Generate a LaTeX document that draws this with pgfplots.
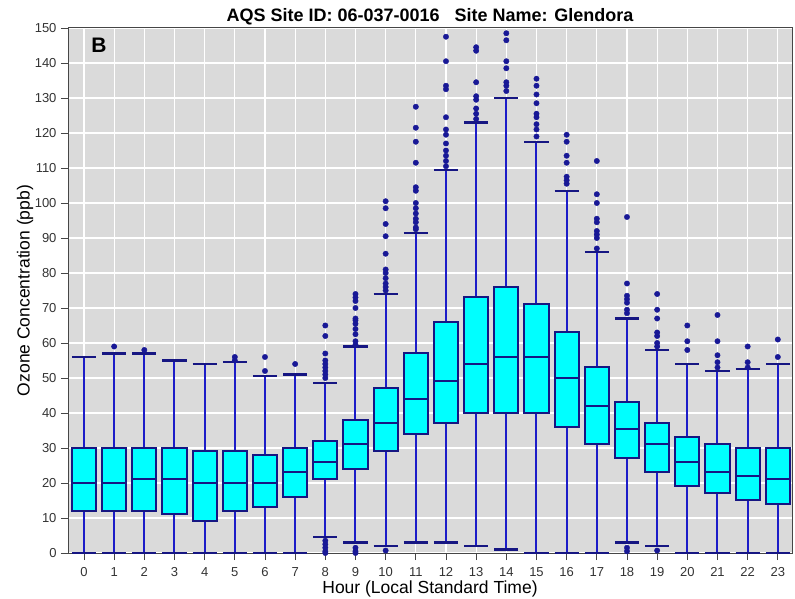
\documentclass[border=0pt]{standalone}
\usepackage{fontspec}
\setmainfont{Liberation Sans}
\usepackage{pgfplots}
\pgfplotsset{compat=1.18}
\definecolor{bgc}{RGB}{218,218,218}
\definecolor{boxc}{RGB}{22,22,130}
\definecolor{whc}{RGB}{28,28,200}
\definecolor{outc}{RGB}{24,24,150}
\definecolor{framec}{RGB}{70,70,70}
\definecolor{boxfill}{RGB}{0,255,255}
\begin{document}
\begin{tikzpicture}
\useasboundingbox (0,0) rectangle (795bp,599bp);
\begin{axis}[
  at={(68bp,46bp)}, anchor=south west,
  scale only axis, width=724bp, height=525bp,
  xmin=-0.53, xmax=23.47, ymin=0, ymax=150,
  xtick={0,1,...,23}, ytick={0,10,...,150},
  tick pos=left, tick align=outside,
  major tick length=7bp,
  clip=false,
  unbounded coords=jump,
  axis background/.style={fill=bgc},
  grid=major, major grid style={white, line width=1.3bp},
  axis line style={framec, line width=1bp},
  every tick/.style={framec, line width=0.8bp},
  /pgf/number format/assume math mode=true,
  ticklabel style={font=\fontsize{13bp}{15bp}\selectfont, text=black!80},
  yticklabel style={xshift=-1bp},
  xticklabel style={yshift=-4bp},
  xlabel={Hour (Local Standard Time)},
  ylabel={Ozone Concentration (ppb)},
  label style={font=\fontsize{17.5bp}{20bp}\selectfont},
  xlabel style={at={(axis description cs:0.5,0)}, anchor=base, yshift=-40bp},
  ylabel style={at={(axis description cs:-0.0594,0.5)}, anchor=center, rotate=0},
  title={AQS Site ID: 06-037-0016\ \ \ Site Name: Glendora},
  title style={font=\bfseries\fontsize{18bp}{20bp}\selectfont, at={(axis description cs:0.5,1)}, anchor=base, yshift=1bp},
]
% whiskers (lower whisker to upper whisker)
\addplot[draw=whc, line width=2bp, no marks] coordinates {
(0,0)(0,56)(0,nan) (1,0)(1,57)(1,nan) (2,0)(2,57)(2,nan) (3,0)(3,55)(3,nan)
(4,0)(4,54)(4,nan) (5,0)(5,54.5)(5,nan) (6,0)(6,50.5)(6,nan) (7,0)(7,51)(7,nan)
(8,4.5)(8,48.5)(8,nan) (9,3)(9,59)(9,nan) (10,2)(10,74)(10,nan) (11,3)(11,91.5)(11,nan)
(12,3)(12,109.5)(12,nan) (13,2)(13,123)(13,nan) (14,1)(14,130)(14,nan) (15,0)(15,117.5)(15,nan)
(16,0)(16,103.5)(16,nan) (17,0)(17,86)(17,nan) (18,3)(18,67)(18,nan) (19,2)(19,58)(19,nan)
(20,0)(20,54)(20,nan) (21,0)(21,52)(21,nan) (22,0)(22,52.5)(22,nan) (23,0)(23,54)
};
% whisker caps
\addplot[draw=boxc, line width=2.2bp, no marks] coordinates {
(-0.4,56)(0.4,56)(0,nan) (0.6,57)(1.4,57)(1,nan) (1.6,57)(2.4,57)(2,nan) (2.6,55)(3.4,55)(3,nan)
(3.6,54)(4.4,54)(4,nan) (4.6,54.5)(5.4,54.5)(5,nan) (5.6,50.5)(6.4,50.5)(6,nan) (6.6,51)(7.4,51)(7,nan)
(7.6,48.5)(8.4,48.5)(8,nan) (8.6,59)(9.4,59)(9,nan) (9.6,74)(10.4,74)(10,nan) (10.6,91.5)(11.4,91.5)(11,nan)
(11.6,109.5)(12.4,109.5)(12,nan) (12.6,123)(13.4,123)(13,nan) (13.6,130)(14.4,130)(14,nan) (14.6,117.5)(15.4,117.5)(15,nan)
(15.6,103.5)(16.4,103.5)(16,nan) (16.6,86)(17.4,86)(17,nan) (17.6,67)(18.4,67)(18,nan) (18.6,58)(19.4,58)(19,nan)
(19.6,54)(20.4,54)(20,nan) (20.6,52)(21.4,52)(21,nan) (21.6,52.5)(22.4,52.5)(22,nan) (22.6,54)(23.4,54)(23,nan)
(-0.4,0)(0.4,0)(0,nan) (0.6,0)(1.4,0)(1,nan) (1.6,0)(2.4,0)(2,nan) (2.6,0)(3.4,0)(3,nan)
(3.6,0)(4.4,0)(4,nan) (4.6,0)(5.4,0)(5,nan) (5.6,0)(6.4,0)(6,nan) (6.6,0)(7.4,0)(7,nan)
(7.6,4.5)(8.4,4.5)(8,nan) (8.6,3)(9.4,3)(9,nan) (9.6,2)(10.4,2)(10,nan) (10.6,3)(11.4,3)(11,nan)
(11.6,3)(12.4,3)(12,nan) (12.6,2)(13.4,2)(13,nan) (13.6,1)(14.4,1)(14,nan) (14.6,0)(15.4,0)(15,nan)
(15.6,0)(16.4,0)(16,nan) (16.6,0)(17.4,0)(17,nan) (17.6,3)(18.4,3)(18,nan) (18.6,2)(19.4,2)(19,nan)
(19.6,0)(20.4,0)(20,nan) (20.6,0)(21.4,0)(21,nan) (21.6,0)(22.4,0)(22,nan) (22.6,0)(23.4,0)
};
% boxes (lower quartile to upper quartile)
\addplot[draw=boxc, fill=boxfill, line width=2bp, line join=miter, line cap=rect, no marks] coordinates {
(-0.4,12)(0.4,12)(0.4,30)(-0.4,30)(-0.4,12)(0,nan)
(0.6,12)(1.4,12)(1.4,30)(0.6,30)(0.6,12)(1,nan)
(1.6,12)(2.4,12)(2.4,30)(1.6,30)(1.6,12)(2,nan)
(2.6,11)(3.4,11)(3.4,30)(2.6,30)(2.6,11)(3,nan)
(3.6,9)(4.4,9)(4.4,29)(3.6,29)(3.6,9)(4,nan)
(4.6,12)(5.4,12)(5.4,29)(4.6,29)(4.6,12)(5,nan)
(5.6,13)(6.4,13)(6.4,28)(5.6,28)(5.6,13)(6,nan)
(6.6,16)(7.4,16)(7.4,30)(6.6,30)(6.6,16)(7,nan)
(7.6,21)(8.4,21)(8.4,32)(7.6,32)(7.6,21)(8,nan)
(8.6,24)(9.4,24)(9.4,38)(8.6,38)(8.6,24)(9,nan)
(9.6,29)(10.4,29)(10.4,47)(9.6,47)(9.6,29)(10,nan)
(10.6,34)(11.4,34)(11.4,57)(10.6,57)(10.6,34)(11,nan)
(11.6,37)(12.4,37)(12.4,66)(11.6,66)(11.6,37)(12,nan)
(12.6,40)(13.4,40)(13.4,73)(12.6,73)(12.6,40)(13,nan)
(13.6,40)(14.4,40)(14.4,76)(13.6,76)(13.6,40)(14,nan)
(14.6,40)(15.4,40)(15.4,71)(14.6,71)(14.6,40)(15,nan)
(15.6,36)(16.4,36)(16.4,63)(15.6,63)(15.6,36)(16,nan)
(16.6,31)(17.4,31)(17.4,53)(16.6,53)(16.6,31)(17,nan)
(17.6,27)(18.4,27)(18.4,43)(17.6,43)(17.6,27)(18,nan)
(18.6,23)(19.4,23)(19.4,37)(18.6,37)(18.6,23)(19,nan)
(19.6,19)(20.4,19)(20.4,33)(19.6,33)(19.6,19)(20,nan)
(20.6,17)(21.4,17)(21.4,31)(20.6,31)(20.6,17)(21,nan)
(21.6,15)(22.4,15)(22.4,30)(21.6,30)(21.6,15)(22,nan)
(22.6,14)(23.4,14)(23.4,30)(22.6,30)(22.6,14)
};
% medians
\addplot[draw=boxc, line width=2bp, no marks] coordinates {
(-0.4,20)(0.4,20)(0,nan) (0.6,20)(1.4,20)(1,nan) (1.6,21)(2.4,21)(2,nan) (2.6,21)(3.4,21)(3,nan)
(3.6,20)(4.4,20)(4,nan) (4.6,20)(5.4,20)(5,nan) (5.6,20)(6.4,20)(6,nan) (6.6,23)(7.4,23)(7,nan)
(7.6,26)(8.4,26)(8,nan) (8.6,31)(9.4,31)(9,nan) (9.6,37)(10.4,37)(10,nan) (10.6,44)(11.4,44)(11,nan)
(11.6,49)(12.4,49)(12,nan) (12.6,54)(13.4,54)(13,nan) (13.6,56)(14.4,56)(14,nan) (14.6,56)(15.4,56)(15,nan)
(15.6,50)(16.4,50)(16,nan) (16.6,42)(17.4,42)(17,nan) (17.6,35.5)(18.4,35.5)(18,nan) (18.6,31)(19.4,31)(19,nan)
(19.6,26)(20.4,26)(20,nan) (20.6,23)(21.4,23)(21,nan) (21.6,22)(22.4,22)(22,nan) (22.6,21)(23.4,21)
};
% outliers
\addplot[only marks, mark=*, mark size=2.7bp, color=outc, mark options={solid, fill=outc, draw=outc, line width=0.4bp}] coordinates {
(1,59) (2,58) (5,55) (5,56) (6,52) (6,56) (7,54)
(8,50) (8,51) (8,52) (8,53) (8,54) (8,55) (8,57) (8,62) (8,65) (8,3.5) (8,2.5) (8,1.5) (8,0.5) (8,0)
(9,59.5) (9,60.5) (9,62.5) (9,64) (9,65.5) (9,66.5) (9,67) (9,70) (9,72) (9,73) (9,74) (9,1.5) (9,0.5) (9,0)
(10,75) (10,76) (10,77) (10,78.5) (10,80) (10,81) (10,85.5) (10,90.5) (10,94) (10,98.5) (10,100.5) (10,0.7)
(11,92.5) (11,93) (11,94.5) (11,95.5) (11,97) (11,98.5) (11,100) (11,103.5) (11,104.5) (11,111.5) (11,117.5) (11,121.5) (11,127.5)
(12,110.5) (12,112) (12,113.5) (12,115) (12,117) (12,119.5) (12,121) (12,124.5) (12,132.5) (12,133.5) (12,140.5) (12,147.5)
(13,124) (13,125.5) (13,127) (13,129.5) (13,130.5) (13,134.5) (13,143.5) (13,144.5)
(14,132) (14,133.5) (14,134.5) (14,138.5) (14,140.5) (14,146.5) (14,148.5)
(15,119) (15,121) (15,122.5) (15,124.5) (15,125.5) (15,128.5) (15,131) (15,133.5) (15,135.5)
(16,105.5) (16,106.5) (16,107.5) (16,111.5) (16,113.5) (16,117.5) (16,119.5)
(17,87) (17,90) (17,91) (17,92) (17,94.5) (17,95.5) (17,100) (17,102.5) (17,112)
(18,68.5) (18,69.5) (18,71.5) (18,72.5) (18,73.5) (18,77) (18,96) (18,1.5) (18,0.5)
(19,59) (19,60) (19,62) (19,63) (19,67) (19,69.5) (19,74) (19,0.7)
(20,58) (20,60.5) (20,65)
(21,53) (21,54.5) (21,56.5) (21,60.5) (21,68)
(22,53) (22,54.5) (22,59)
(23,56) (23,61)
};
\node[font=\bfseries\fontsize{21bp}{24bp}\selectfont] at (axis cs:0.5,145) {B};
\end{axis}
\end{tikzpicture}
\end{document}
